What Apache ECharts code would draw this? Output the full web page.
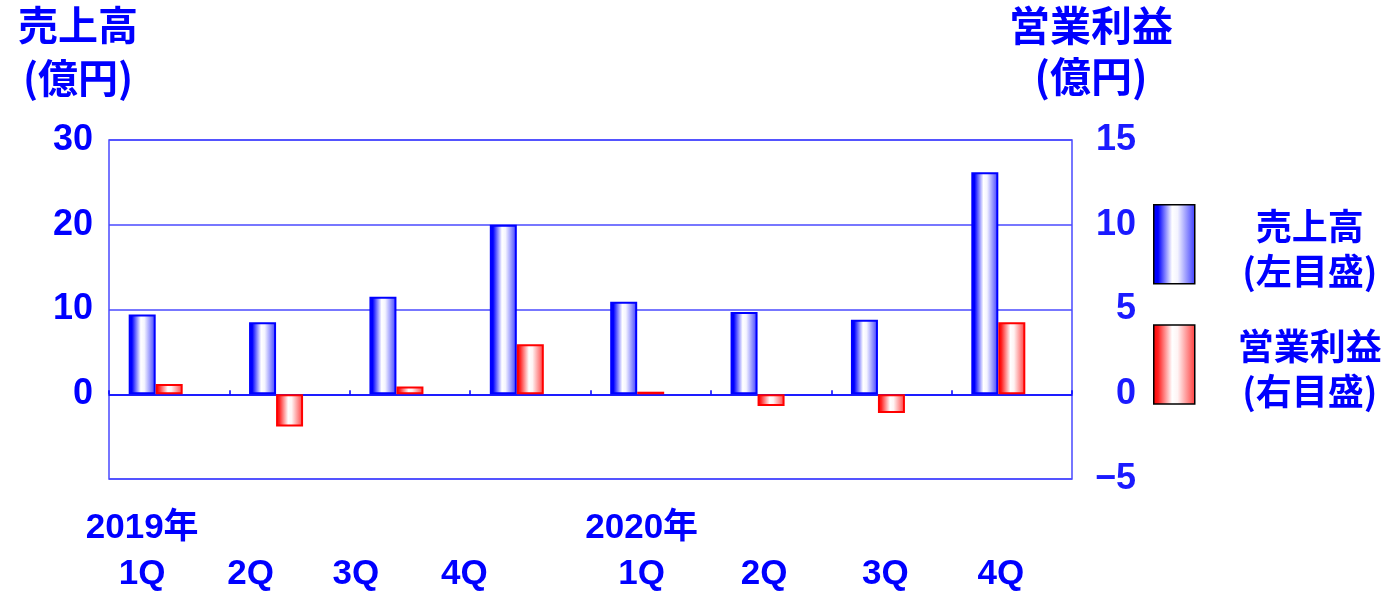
<!DOCTYPE html>
<html>
<head>
<meta charset="utf-8">
<script src="https://cdn.jsdelivr.net/npm/echarts@6/dist/echarts.min.js"></script>
<style>
  html, body { margin: 0; padding: 0; background: #ffffff; }
  #chart { width: 1388px; height: 597px; }
</style>
</head>
<body>
<div id="chart"></div>
<script>
// Quarterly sales (left axis, 億円) and operating profit (right axis, 億円)
const quarters = ['1Q', '2Q', '3Q', '4Q', '1Q', '2Q', '3Q', '4Q'];
const years = ['2019年', '', '', '', '2020年', '', '', ''];
const sales = [9.4, 8.5, 11.5, 20.0, 10.9, 9.7, 8.8, 26.2];
const profit = [0.6, -1.9, 0.45, 2.95, 0.15, -0.7, -1.1, 4.25];
const seriesNames = ['売上高', '営業利益'];
const axisNotes = ['(左目盛)', '(右目盛)'];
const leftTitle = ['売上高', '(億円)'];
const rightTitle = ['営業利益', '(億円)'];

const BLUE = '#0000ff';
const FRAME = '#4a4aff';
const CJK = '"Noto Sans CJK JP", "Noto Sans CJK SC", sans-serif';
const NUM = '"Liberation Sans", Arial, "Noto Sans CJK JP", sans-serif';

// horizontal shift (px) of each quarter label from its category centre
const labelShift = [-27, -39, -54, -66, -9, -7, -6, -11];

const blueFill = new echarts.graphic.LinearGradient(0, 0, 1, 0, [
  { offset: 0, color: '#0000ff' },
  { offset: 0.12, color: '#0000ff' },
  { offset: 0.45, color: '#ffffff' },
  { offset: 0.58, color: '#f4f4ff' },
  { offset: 1, color: '#3a3aff' }
]);
const redFill = new echarts.graphic.LinearGradient(0, 0, 1, 0, [
  { offset: 0, color: '#ff0000' },
  { offset: 0.12, color: '#ff2020' },
  { offset: 0.45, color: '#ffffff' },
  { offset: 0.58, color: '#fff4f4' },
  { offset: 1, color: '#ff3a3a' }
]);

const rich = {};
quarters.forEach(function (q, i) {
  const pad = [0, Math.round(-2 * labelShift[i]), 0, 0];
  const base = { align: 'center', padding: pad, fontSize: 35, fontWeight: 'bold', fontFamily: NUM, color: BLUE, lineHeight: 46 };
  rich['y' + i] = Object.assign({}, base);
  rich['q' + i] = Object.assign({}, base);
});

const chart = echarts.init(document.getElementById('chart'), null, { renderer: 'canvas' });
chart.setOption({
  animation: false,
  backgroundColor: '#ffffff',
  grid: {
    left: 109, right: 316, top: 140, bottom: 118,
    outerBoundsMode: 'none',
    containLabel: false,
    show: true, borderColor: FRAME, borderWidth: 1.5, backgroundColor: 'transparent'
  },
  graphic: [
    {
      type: 'text', x: 78, y: -2,
      style: {
        text: leftTitle.join('\n'), align: 'center', verticalAlign: 'top',
        fontSize: 40, fontWeight: 'bold', fontFamily: CJK, fill: BLUE, lineHeight: 53
      }
    },
    {
      type: 'text', x: 1091, y: 0,
      style: {
        text: rightTitle.join('\n'), align: 'center', verticalAlign: 'top',
        fontSize: 41, fontWeight: 'bold', fontFamily: CJK, fill: BLUE, lineHeight: 51
      }
    }
  ],
  legend: {
    data: seriesNames,
    orient: 'vertical',
    left: 1153,
    top: 204,
    padding: 0,
    itemWidth: 41,
    itemHeight: 79,
    itemGap: 35,
    icon: 'rect',
    selectedMode: false,
    itemStyle: { borderColor: '#000000', borderWidth: 1.5 },
    formatter: function (name) {
      const i = seriesNames.indexOf(name);
      return '{t|' + name + '}\n{t|' + axisNotes[i] + '}';
    },
    textStyle: {
      padding: [9, 0, 0, 0],
      rich: {
        t: {
          width: 220, align: 'center', fontSize: 36, fontWeight: 'bold',
          fontFamily: CJK, color: BLUE, lineHeight: 45
        }
      }
    }
  },
  xAxis: {
    type: 'category',
    data: quarters,
    axisLine: { onZero: true, lineStyle: { color: BLUE, width: 1.5 } },
    axisTick: { show: true, inside: true, length: 4, lineStyle: { color: BLUE, width: 1.5 } },
    axisLabel: {
      interval: 0,
      margin: 26,
      hideOverlap: false,
      formatter: function (value, index) {
        const y = years[index] || ' ';
        return '{y' + index + '|' + y + '}\n{q' + index + '|' + value + '}';
      },
      rich: rich
    },
    splitLine: { show: false }
  },
  yAxis: [
    {
      type: 'value', min: -10, max: 30, interval: 10,
      axisLine: { show: false }, axisTick: { show: false },
      splitLine: { show: true, lineStyle: { color: FRAME, width: 1.5 } },
      axisLabel: {
        margin: 16, fontSize: 36, fontWeight: 'bold', fontFamily: NUM, color: BLUE,
        formatter: function (v) { return v < 0 ? '' : String(v); }
      }
    },
    {
      type: 'value', min: -5, max: 15, interval: 5, position: 'right',
      axisLine: { show: false }, axisTick: { show: false },
      splitLine: { show: false },
      axisLabel: {
        margin: 64, align: 'right', fontSize: 36, fontWeight: 'bold', fontFamily: NUM, color: '#1a1aff',
        formatter: function (v) { return v < 0 ? '\u2212' + Math.abs(v) : String(v); }
      }
    }
  ],
  series: [
    {
      name: seriesNames[0], type: 'bar', yAxisIndex: 0, data: sales,
      barWidth: 27, barGap: '0%',
      itemStyle: { color: blueFill, borderColor: '#0000ff', borderWidth: 2 }
    },
    {
      name: seriesNames[1], type: 'bar', yAxisIndex: 1, data: profit,
      barWidth: 27, barGap: '0%',
      itemStyle: { color: redFill, borderColor: '#ff0000', borderWidth: 2 }
    },
    {
      // empty slot that keeps the bar pair left of the category centre
      name: 'slot', type: 'bar', yAxisIndex: 0, data: [],
      barWidth: 27, barGap: '0%'
    }
  ]
});
</script>
</body>
</html>
